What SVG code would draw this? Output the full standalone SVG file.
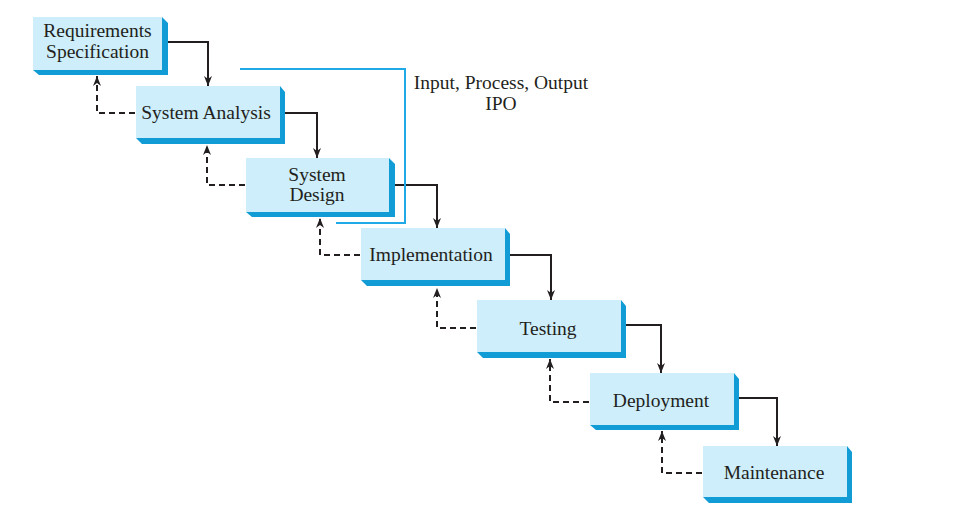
<svg xmlns="http://www.w3.org/2000/svg" width="970" height="527" viewBox="0 0 970 527">
<defs>
<style>
.face{fill:#cdeefa;}
.sh{fill:#129cd6;}
.lbl{font-family:"Liberation Serif","Times New Roman",serif;font-size:19.5px;fill:#231f20;text-anchor:middle;}
.solid{fill:none;stroke:#231f20;stroke-width:2;}
.dash{fill:none;stroke:#231f20;stroke-width:2;stroke-dasharray:6 4;}
.ipo{fill:none;stroke:#1fa9e6;stroke-width:2;}
</style>
<marker id="ah" viewBox="0 0 10 10" refX="10" refY="5" markerWidth="10" markerHeight="10" markerUnits="userSpaceOnUse" orient="auto">
<path d="M0,1 L10,5 L0,9 L3,5 Z" fill="#231f20"/>
</marker>
</defs>
<rect width="970" height="527" fill="#ffffff"/>
<g id="connectors">
<polyline class="solid" points="168,42 208,42 208,86" marker-end="url(#ah)"/>
<polyline class="solid" points="285,113 317,113 317,158" marker-end="url(#ah)"/>
<polyline class="solid" points="395,185 437,185 437,228" marker-end="url(#ah)"/>
<polyline class="solid" points="510,255 551,255 551,300" marker-end="url(#ah)"/>
<polyline class="solid" points="626,325 661,325 661,373" marker-end="url(#ah)"/>
<polyline class="solid" points="739,398 777,398 777,446" marker-end="url(#ah)"/>
<polyline class="dash" points="135,113 97,113 97,76" marker-end="url(#ah)"/>
<polyline class="dash" points="245,185 207,185 207,145" marker-end="url(#ah)"/>
<polyline class="dash" points="360,255 320,255 320,218" marker-end="url(#ah)"/>
<polyline class="dash" points="476,328 437,328 437,288" marker-end="url(#ah)"/>
<polyline class="dash" points="589,402 550,402 550,359" marker-end="url(#ah)"/>
<polyline class="dash" points="702,473 662,473 662,431" marker-end="url(#ah)"/>
</g>
<g id="ipo">
<polyline class="ipo" points="240,69 405,69 405,223 336,223"/>
<text class="lbl" x="501" y="89">Input, Process, Output</text>
<text class="lbl" x="501" y="110">IPO</text>
</g>
<g id="requirements">
<polygon class="sh" points="162,17 168,23 168,75 39,75 33,70 162,70"/>
<rect class="face" x="33" y="17" width="129" height="53"/>
<text class="lbl" x="97.5" y="37">Requirements</text>
<text class="lbl" x="97.5" y="58">Specification</text>
</g>
<g id="system-analysis">
<polygon class="sh" points="280,86 285,92 285,144 142,144 136,138 280,138"/>
<rect class="face" x="136" y="86" width="144" height="52"/>
<text class="lbl" x="206" y="119">System Analysis</text>
</g>
<g id="system-design">
<polygon class="sh" points="389,158 395,164 395,217 252,217 246,212 389,212"/>
<rect class="face" x="246" y="158" width="143" height="54"/>
<text class="lbl" x="317" y="181">System</text>
<text class="lbl" x="317" y="201">Design</text>
</g>
<g id="implementation">
<polygon class="sh" points="505,228 510,234 510,286 367,286 361,280 505,280"/>
<rect class="face" x="361" y="228" width="144" height="52"/>
<text class="lbl" x="431" y="261">Implementation</text>
</g>
<g id="testing">
<polygon class="sh" points="621,300 626,306 626,358 483,358 477,352 621,352"/>
<rect class="face" x="477" y="300" width="144" height="52"/>
<text class="lbl" x="548" y="335">Testing</text>
</g>
<g id="deployment">
<polygon class="sh" points="734,373 739,379 739,430 596,430 590,425 734,425"/>
<rect class="face" x="590" y="373" width="144" height="52"/>
<text class="lbl" x="661" y="407">Deployment</text>
</g>
<g id="maintenance">
<polygon class="sh" points="847,446 852,452 852,503 709,503 703,497 847,497"/>
<rect class="face" x="703" y="446" width="144" height="51"/>
<text class="lbl" x="774" y="479">Maintenance</text>
</g>
</svg>
